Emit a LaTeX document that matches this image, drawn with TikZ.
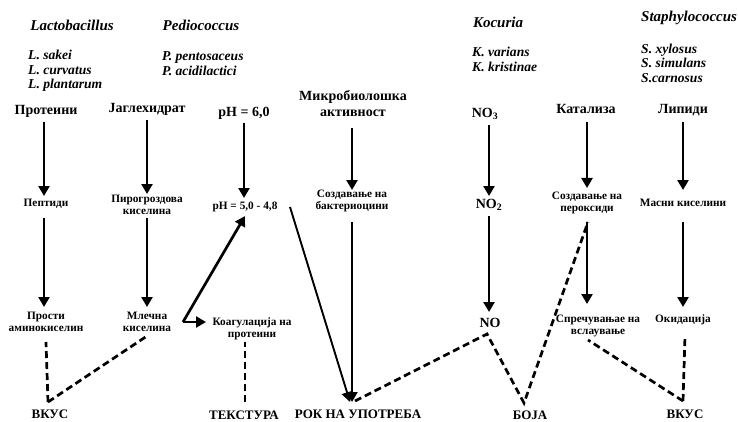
\documentclass[tikz,border=0pt]{standalone}
\usepackage{fontspec}
\setmainfont{Liberation Serif}
\usetikzlibrary{arrows.meta,calc}
\begin{document}
\begin{tikzpicture}[x=1pt,y=-1pt,
  hd/.style={font=\fontsize{15}{16}\selectfont\bfseries\itshape, inner sep=0pt},
  sp/.style={font=\fontsize{13.6}{14}\selectfont\bfseries\itshape, inner sep=0pt, anchor=base west},
  big/.style={font=\fontsize{14}{16}\selectfont\bfseries, inner sep=0pt, align=center},
  sm/.style={font=\fontsize{11.3}{12}\selectfont\bfseries, inner sep=0pt, align=center},
  outl/.style={font=\fontsize{13}{14}\selectfont\bfseries, inner sep=0pt},
  arr/.style={line width=2.7pt, -{Triangle[length=10pt,width=11pt]}},
  thinarr/.style={line width=1.9pt, -{Triangle[length=10pt,width=11pt]}},
  dsh/.style={line width=2.7pt, dash pattern=on 7pt off 4pt},
]
\useasboundingbox (0,0) rectangle (738,422);
\fill[white] (0,0) rectangle (738,422);

% genus headers and species
\node[hd] (lacto) at (72,25) {Lactobacillus};
\node[sp] (ls1) at (28,59.5) {L. sakei};
\node[sp] (ls2) at (28,74.5) {L. curvatus};
\node[sp] (ls3) at (28,89) {L. plantarum};
\node[hd] (pedio) at (201,25) {Pediococcus};
\node[sp] (ps1) at (162,60.5) {P. pentosaceus};
\node[sp] (ps2) at (162,75.5) {P. acidilactici};
\node[hd] (kocu) at (498,22) {Kocuria};
\node[sp] (ks1) at (472,56.5) {K. varians};
\node[sp] (ks2) at (472,71.5) {K. kristinae};
\node[hd,anchor=west] (staph) at (641,18) {Staphylococcus};
\node[sp] (ss1) at (641,53.5) {S. xylosus};
\node[sp] (ss2) at (641,68) {S. simulans};
\node[sp] (ss3) at (641,82.5) {S.carnosus};

% row 1
\node[big] (prot) at (46,111) {Протеини};
\node[big] (jagl) at (147,109) {Јаглехидрат};
\node[big] (ph6) at (244,113) {pH = 6,0};
\node[big] (mikro) at (353,104) {Микробиолошка\\активност};
\node[big] (no3) at (485,114) {NO\textsubscript{3}};
\node[big] (kata) at (586,109) {Катализа};
\node[big] (lipi) at (683,110) {Липиди};

% row 2
\node[sm] (pept) at (46,204) {Пептиди};
\node[sm] (piro) at (147,205) {Пирогроздова\\киселина};
\node[sm] (ph5) at (245,207) {pH = 5,0 - 4,8};
\node[sm] (bakt) at (352,201) {Создавање на\\бактериоцини};
\node[big] (no2) at (489,205) {NO\textsubscript{2}};
\node[sm] (pero) at (587,203) {Создавање на\\пероксиди};
\node[sm] (masn) at (683,203) {Масни киселини};

% row 3
\node[sm] (pros) at (46,322) {Прости\\аминокиселин};
\node[sm] (mlec) at (147,322) {Млечна\\киселина};
\node[sm] (koag) at (252,329) {Коагулација на\\протеини};
\node[big] (no) at (490,323) {NO};
\node[sm] (spre) at (598,326) {Спречувањае на\\вслаување};
\node[sm] (okid) at (683,320) {Окидација};

% row 4
\node[outl] (vkus1) at (50,414) {ВКУС};
\node[outl] (text) at (244,415) {ТЕКСТУРА};
\node[outl] (rok) at (358,414) {РОК НА УПОТРЕБА};
\node[outl] (boja) at (530,415) {БОЈА};
\node[outl] (vkus2) at (685,414) {ВКУС};

\coordinate (v) at (183,322);

% solid arrows
\draw[arr] ($(prot)+(-2,11)$) -- ($(pept)+(-2,-8)$);
\draw[arr] ($(pept)+(-2,14)$) -- ($(pros)+(-2,-15)$);
\draw[arr] ($(jagl)+(0,11)$) -- ($(piro)+(0,-11)$);
\draw[arr] ($(piro)+(0,13)$) -- ($(mlec)+(0,-15)$);
\draw[arr] ($(ph6)+(0,10)$) -- ($(ph5)+(-1,-9)$);
\draw[arr] ($(mikro)+(-1,24)$) -- ($(bakt)+(0,-11)$);
\draw[arr] ($(bakt)+(0,21)$) -- ($(rok)+(-6,-12)$);
\draw[thinarr] ($(ph5)+(45,0)$) -- ($(rok)+(-8,-12)$);
\draw[arr] (v) -- ($(ph5)+(0,9)$);
\draw[arr] (v) -- ($(koag)+(-46,-7)$);
\draw[arr] ($(no3)+(4,11)$) -- ($(no2)+(0,-9)$);
\draw[arr] ($(no2)+(0,11)$) -- ($(no)+(-1,-11)$);
\draw[arr] ($(kata)+(1,13)$) -- ($(pero)+(0,-15)$);
\draw[arr] ($(pero)+(0,19)$) -- ($(spre)+(-11,-22)$);
\draw[arr] ($(lipi)+(0,12)$) -- ($(masn)+(0,-13)$);
\draw[arr] ($(masn)+(0,19)$) -- ($(okid)+(0,-13)$);

% dashed links
\draw[dsh] ($(vkus1)+(-2,-12)$) -- ($(pros)+(0,20)$);
\draw[dsh] ($(vkus1)+(-2,-12)$) -- ($(mlec)+(0,14)$);
\draw[dsh] ($(text)+(1,-13)$) -- ($(koag)+(-7,13)$);
\draw[dsh] ($(rok)+(-3,-13)$) -- ($(no)+(-3,11)$) -- ($(boja)+(-6,-12)$) -- ($(pero)+(1,19)$);
\draw[dsh] ($(vkus2)+(-2,-13)$) -- ($(spre)+(-10,14)$);
\draw[dsh] ($(vkus2)+(-2,-13)$) -- ($(okid)+(2,16)$);
\end{tikzpicture}
\end{document}
